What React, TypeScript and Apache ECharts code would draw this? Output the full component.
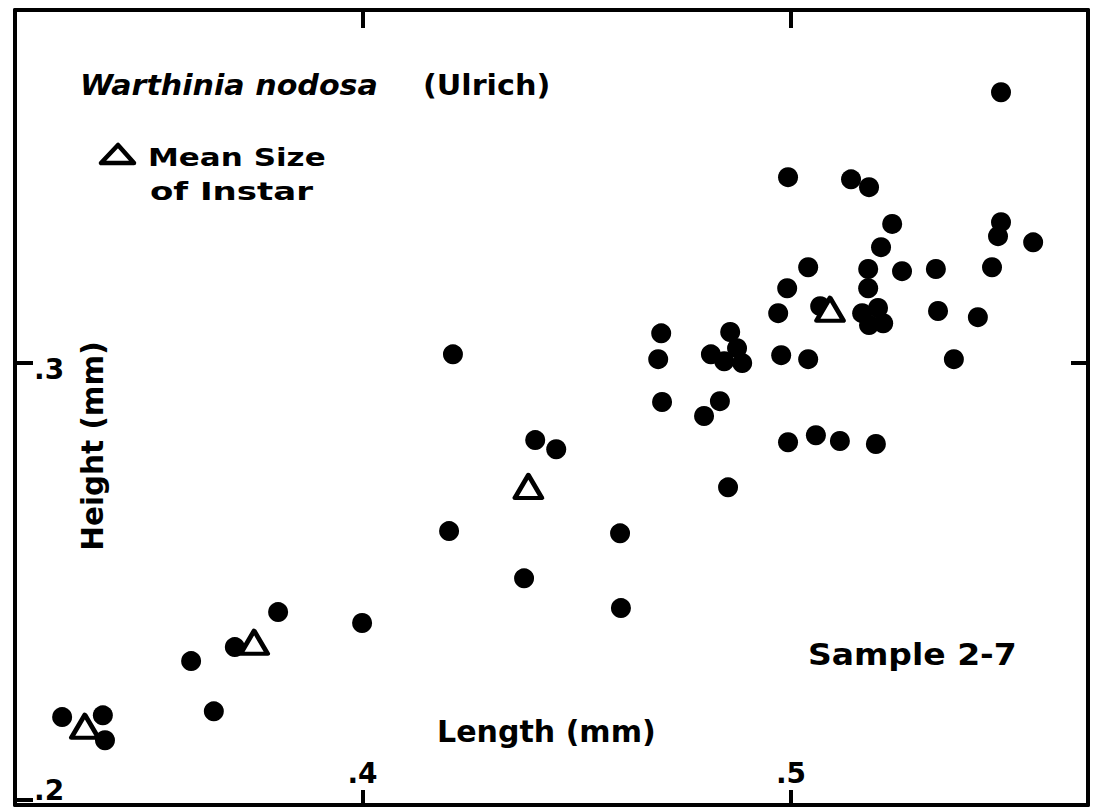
import React, { useEffect, useRef } from "react";
import * as echarts from "echarts";

// Individual specimens: length (mm) and height (mm)
const lengthValues = [
  0.549, 0.4993, 0.514, 0.5182, 0.5236, 0.549, 0.5483, 0.5565, 0.521, 0.504,
  0.518, 0.5259, 0.5338, 0.5469, 0.4991, 0.518, 0.497, 0.5068, 0.5166, 0.5203,
  0.5215, 0.5182, 0.5343, 0.5436, 0.4697, 0.469, 0.4858, 0.4813, 0.4874, 0.4844,
  0.4886, 0.4977, 0.504, 0.538, 0.4211, 0.4699, 0.4834, 0.4797, 0.4993, 0.5058,
  0.5114, 0.5198, 0.4403, 0.4452, 0.4853, 0.4202, 0.4601, 0.4377, 0.4603, 0.3803,
  0.3999, 0.3702, 0.36, 0.3653, 0.3299, 0.3394, 0.3399,
];
const heightValues = [
  0.3618, 0.3424, 0.3419, 0.3401, 0.3317, 0.3321, 0.3289, 0.3275, 0.3264, 0.3218,
  0.3214, 0.3209, 0.3214, 0.3218, 0.317, 0.317, 0.3113, 0.3129, 0.3113, 0.3125,
  0.309, 0.3086, 0.3118, 0.3104, 0.3067, 0.3008, 0.307, 0.3019, 0.3033, 0.3003,
  0.2999, 0.3017, 0.3008, 0.3008, 0.3019, 0.291, 0.2912, 0.2878, 0.2818, 0.2834,
  0.2821, 0.2814, 0.2823, 0.2802, 0.2715, 0.2615, 0.261, 0.2507, 0.2439, 0.243,
  0.2405, 0.235, 0.2318, 0.2203, 0.219, 0.2194, 0.2137,
];

// Mean size of each instar
const meanLength = [0.3352, 0.3747, 0.4387, 0.5091];
const meanHeight = [0.2169, 0.2361, 0.2717, 0.3122];

// Axis ticks and labels
const xTicks = [0.4, 0.5];
const xTickLabels = [".4", ".5"];
const yTicks = [0.2, 0.3];
const yTickLabels = [".2", ".3"];

const X_MIN = 0.3189;
const X_MAX = 0.5693;
const Y_MIN = 0.1989;
const Y_MAX = 0.3806;

const FONT = "DejaVu Sans";

function labelFor(ticks: number[], labels: string[], v: number): string {
  for (let i = 0; i < ticks.length; i++) {
    if (Math.abs(ticks[i] - v) < 1e-9) return labels[i];
  }
  return "";
}

export default function App() {
  const ref = useRef<HTMLDivElement>(null);

  useEffect(() => {
    if (!ref.current) return;
    const chart = echarts.init(ref.current, null, { renderer: "svg" });

    const axisLine = { show: true, lineStyle: { color: "#000", width: 4 } };
    const tickStyle = { color: "#000", width: 4 };

    const option: any = {
      animation: false,
      backgroundColor: "#fff",
      grid: { left: 15, right: 11, top: 10, bottom: 6, containLabel: false },
      xAxis: [
        {
          type: "value",
          position: "bottom",
          min: X_MIN,
          max: X_MAX,
          axisLine,
          splitLine: { show: false },
          axisTick: { show: true, inside: true, length: 15, lineStyle: tickStyle, customValues: xTicks },
          axisLabel: {
            show: true,
            inside: true,
            margin: 18,
            customValues: xTicks,
            formatter: (v: number) => labelFor(xTicks, xTickLabels, v),
            color: "#000",
            fontFamily: FONT,
            fontWeight: "bold",
            fontSize: 28,
          },
        },
        {
          type: "value",
          position: "top",
          min: X_MIN,
          max: X_MAX,
          axisLine,
          splitLine: { show: false },
          axisTick: { show: true, inside: true, length: 18, lineStyle: tickStyle, customValues: xTicks },
          axisLabel: { show: false },
        },
      ],
      yAxis: [
        {
          type: "value",
          position: "left",
          min: Y_MIN,
          max: Y_MAX,
          axisLine,
          splitLine: { show: false },
          axisTick: { show: true, inside: true, length: 18, lineStyle: tickStyle, customValues: yTicks },
          axisLabel: {
            show: true,
            inside: true,
            margin: 19,
            customValues: yTicks,
            formatter: (v: number) => {
              const t = labelFor(yTicks, yTickLabels, v);
              return Math.abs(v - 0.2) < 1e-9 ? "{lo|" + t + "}" : "{hi|" + t + "}";
            },
            color: "#000",
            fontFamily: FONT,
            fontWeight: "bold",
            fontSize: 28,
            rich: {
              lo: { fontFamily: FONT, fontWeight: "bold", fontSize: 28, color: "#000", padding: [0, 0, 20, 0] },
              hi: { fontFamily: FONT, fontWeight: "bold", fontSize: 28, color: "#000", padding: [14, 0, 0, 0] },
            },
          },
        },
        {
          type: "value",
          position: "right",
          min: Y_MIN,
          max: Y_MAX,
          axisLine,
          splitLine: { show: false },
          axisTick: { show: true, inside: true, length: 17, lineStyle: tickStyle, customValues: [0.3] },
          axisLabel: { show: false },
        },
      ],
      series: [
        {
          name: "Specimens",
          type: "scatter",
          xAxisIndex: 0,
          yAxisIndex: 0,
          symbol: "circle",
          symbolSize: 20,
          itemStyle: { color: "#000", opacity: 1 },
          data: lengthValues.map((x, i) => [x, heightValues[i]]),
          z: 2,
        },
        {
          name: "Mean Size of Instar",
          type: "scatter",
          xAxisIndex: 0,
          yAxisIndex: 0,
          symbol: "triangle",
          symbolSize: [27, 23],
          itemStyle: { color: "#fff", borderColor: "#000", borderWidth: 4.5, borderJoin: "round", opacity: 1 },
          data: meanLength.map((x, i) => [x, meanHeight[i]]),
          z: 3,
        },
      ],
      graphic: [
        {
          type: "text",
          x: 80,
          y: 85,
          scaleX: 1.077,
          z: 10,
          style: {
            text: "Warthinia nodosa",
            fontFamily: FONT,
            fontWeight: "bold",
            fontStyle: "italic",
            fontSize: 28,
            fill: "#000",
            align: "left",
            verticalAlign: "middle",
          },
        },
        {
          type: "text",
          x: 423,
          y: 85,
          scaleX: 1.08,
          z: 10,
          style: {
            text: "(Ulrich)",
            fontFamily: FONT,
            fontWeight: "bold",
            fontSize: 28,
            fill: "#000",
            align: "left",
            verticalAlign: "middle",
          },
        },
        {
          type: "polygon",
          z: 10,
          shape: { points: [[118, 145], [101, 163], [134, 163]] },
          style: { fill: "#fff", stroke: "#000", lineWidth: 4.5, lineJoin: "round" },
        },
        {
          type: "text",
          x: 148,
          y: 158,
          scaleX: 1.24,
          z: 10,
          style: {
            text: "Mean Size",
            fontFamily: FONT,
            fontWeight: "bold",
            fontSize: 25,
            fill: "#000",
            align: "left",
            verticalAlign: "middle",
          },
        },
        {
          type: "text",
          x: 150,
          y: 191,
          scaleX: 1.36,
          z: 10,
          style: {
            text: "of Instar",
            fontFamily: FONT,
            fontWeight: "bold",
            fontSize: 25,
            fill: "#000",
            align: "left",
            verticalAlign: "middle",
          },
        },
        {
          type: "text",
          x: 92,
          y: 446,
          rotation: Math.PI / 2,
          scaleX: 0.95,
          z: 10,
          style: {
            text: "Height (mm)",
            fontFamily: FONT,
            fontWeight: "bold",
            fontSize: 31,
            fill: "#000",
            align: "center",
            verticalAlign: "middle",
          },
        },
        {
          type: "text",
          x: 437,
          y: 731,
          scaleX: 0.97,
          z: 10,
          style: {
            text: "Length (mm)",
            fontFamily: FONT,
            fontWeight: "bold",
            fontSize: 31,
            fill: "#000",
            align: "left",
            verticalAlign: "middle",
          },
        },
        {
          type: "text",
          x: 808,
          y: 655,
          scaleX: 1.1,
          z: 10,
          style: {
            text: "Sample 2-7",
            fontFamily: FONT,
            fontWeight: "bold",
            fontSize: 30,
            fill: "#000",
            align: "left",
            verticalAlign: "middle",
          },
        },
      ],
    };

    chart.setOption(option);
    return () => {
      chart.dispose();
    };
  }, []);

  return (
    <div
      ref={ref}
      style={{ position: "absolute", left: 0, top: 0, width: 1099, height: 811, background: "#fff" }}
    />
  );
}
